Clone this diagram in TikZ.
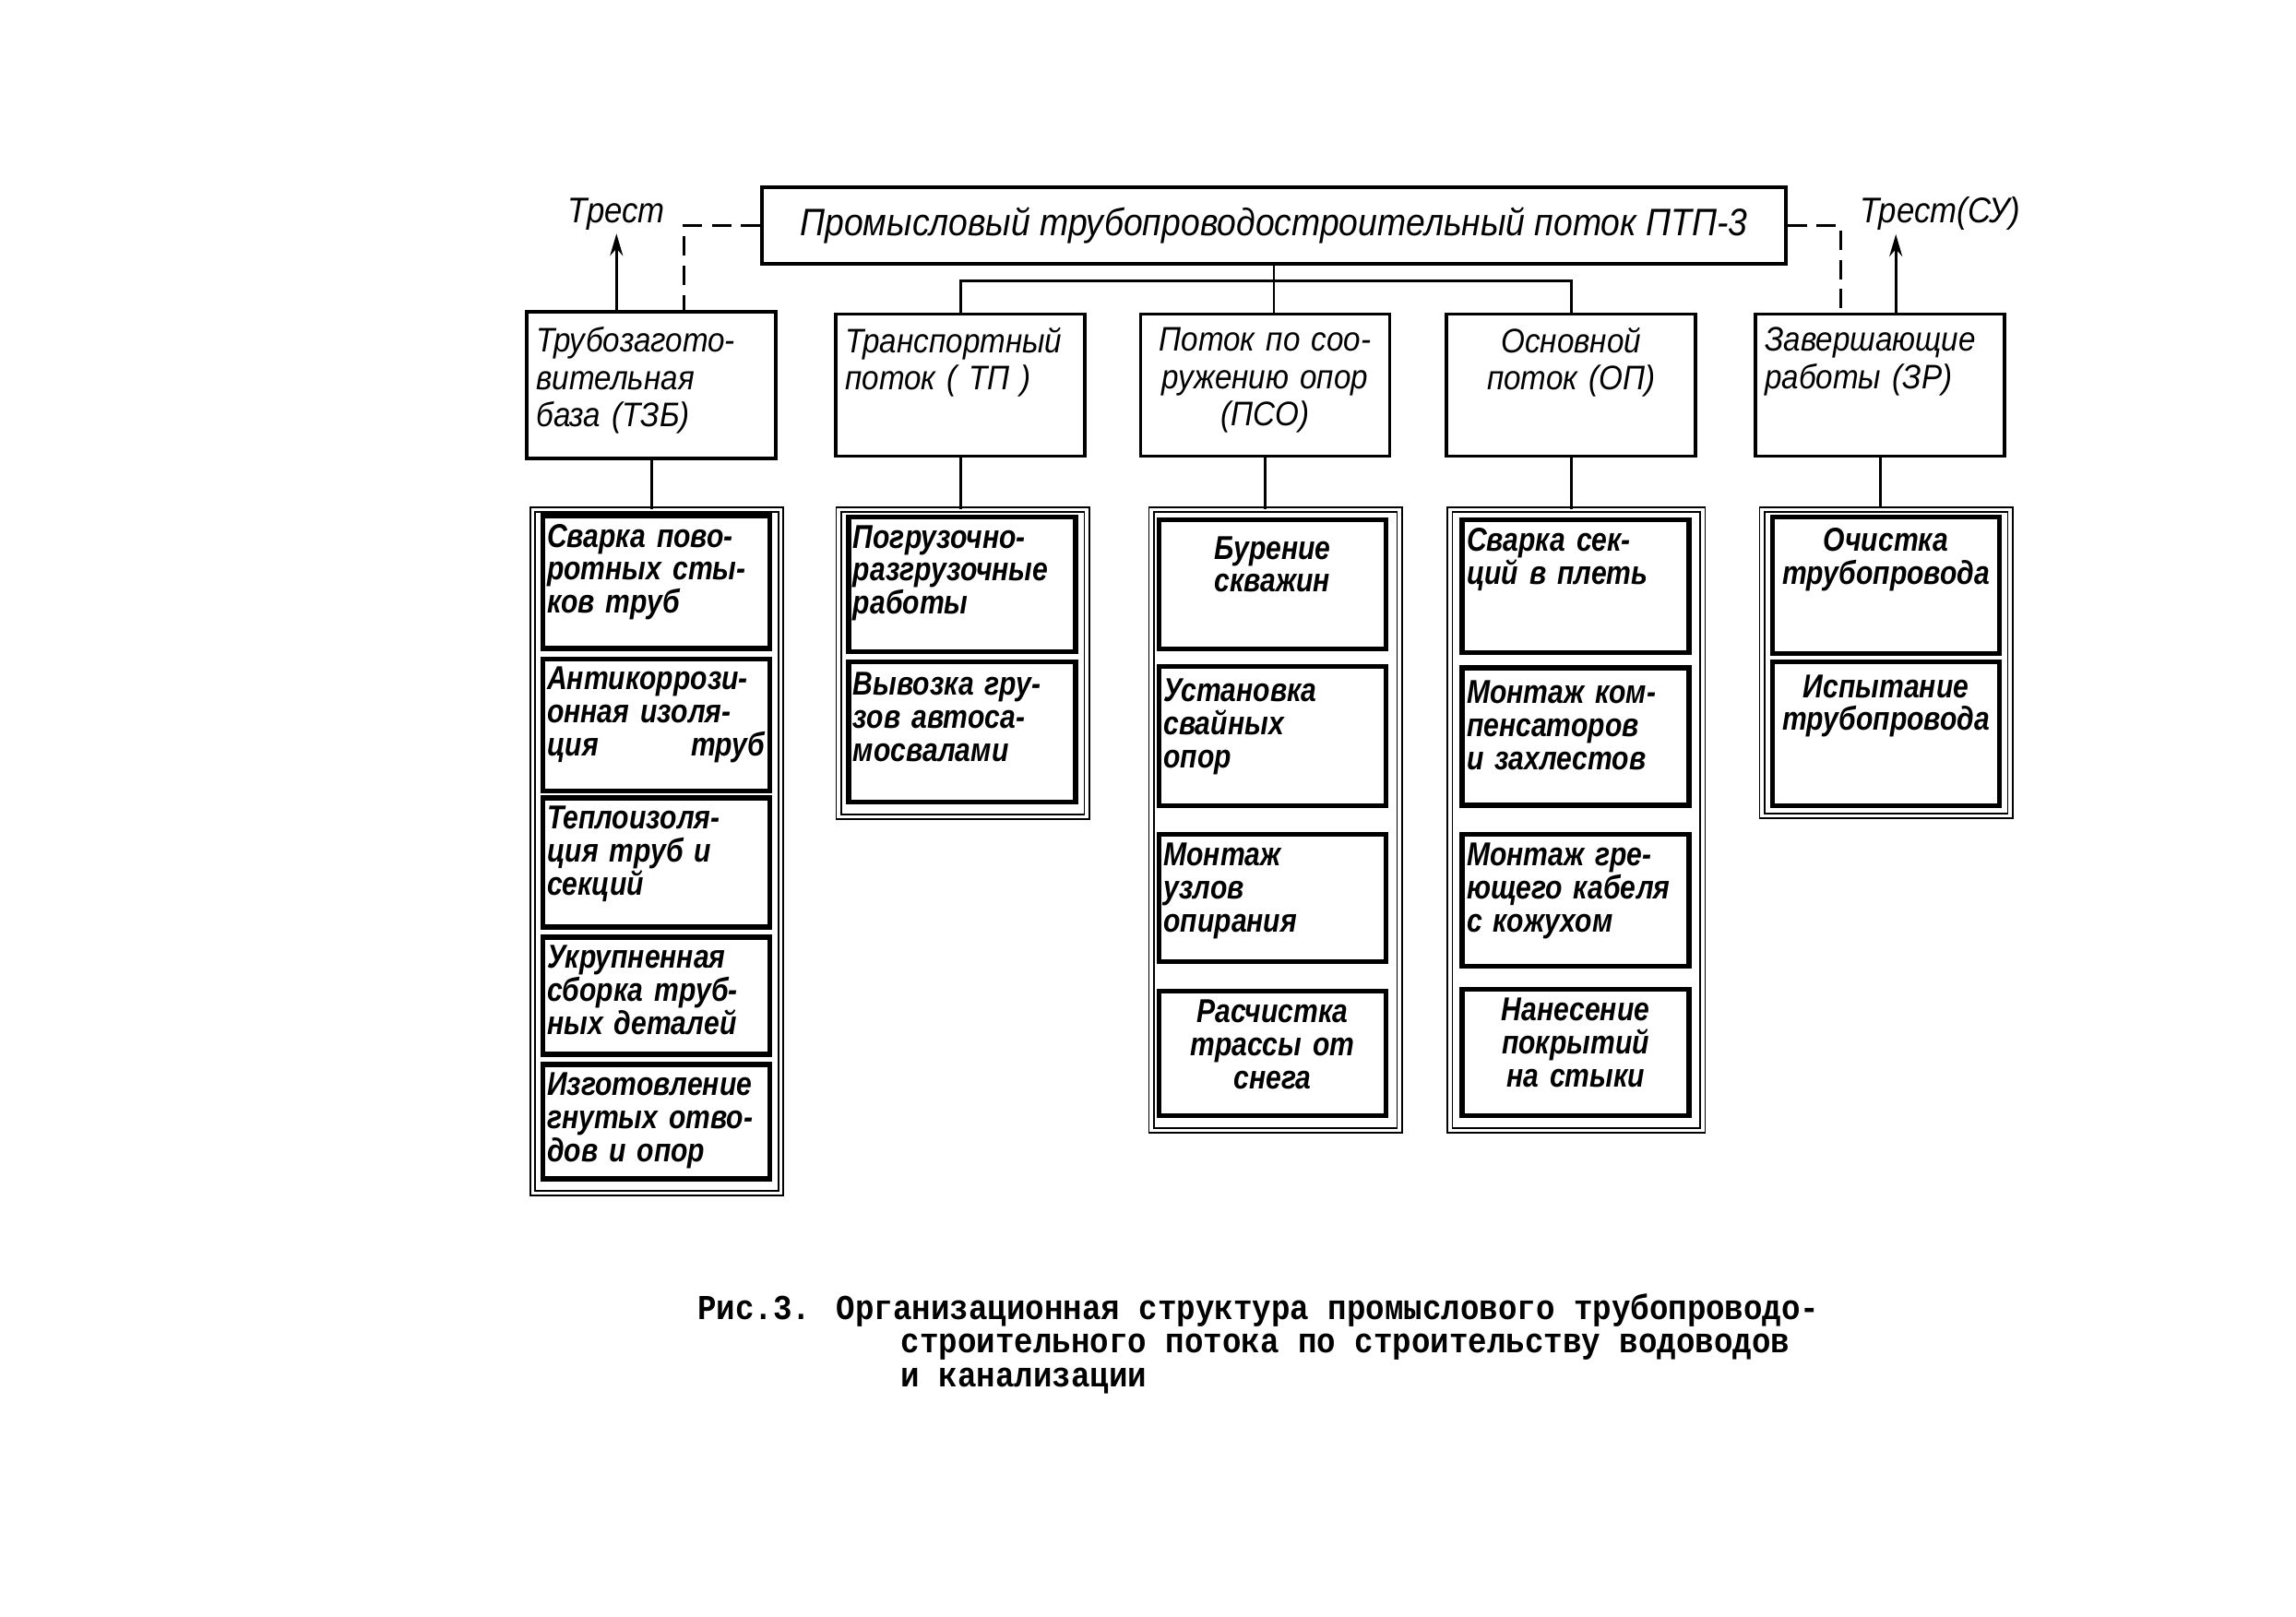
\documentclass[tikz,border=0pt]{standalone}
\usepackage{fontspec}
\setmainfont{Liberation Sans}
\newfontfamily\handfont{Liberation Sans}[FakeStretch=0.9]
\newfontfamily\jobfont{Liberation Sans}[FakeStretch=0.84]
\newfontfamily\typefont{Liberation Mono}[FakeStretch=0.9]
\usetikzlibrary{positioning, arrows.meta}

\begin{document}
\begin{tikzpicture}[x=0.15874mm, y=-0.15874mm,
  headbox/.style={draw, line width=0.9pt, minimum width=111mm, minimum height=8.3mm, inner sep=0pt, font=\handfont\itshape\fontsize{11.8}{13}\selectfont},
  unitbox/.style={draw, line width=1.1pt, minimum width=27mm, minimum height=15.4mm, inner sep=0pt},
  unittext/.style={text width=25mm, align=left, inner sep=0pt, font=\handfont\itshape\fontsize{10.5}{11.5}\selectfont},
  frame/.style={draw, double, line width=0.5pt, double distance=1pt, minimum width=26.9mm, inner sep=0pt},
  jobbox/.style={draw, line width=1.5pt, minimum width=24.6mm, inner sep=0pt},
  jobtext/.style={text width=23.6mm, align=left, inner sep=0pt, font=\jobfont\bfseries\itshape\fontsize{10.2}{10.2}\selectfont},
  link/.style={line width=0.8pt},
  dlink/.style={line width=0.8pt, dash pattern=on 6pt off 3pt},
  trest/.style={font=\handfont\itshape\fontsize{11}{12}\selectfont, inner sep=1pt},
  caption/.style={anchor=west, inner sep=0pt, font=\typefont\bfseries\fontsize{10.8}{12}\selectfont}
]
\useasboundingbox (0,0) rectangle (1568,1104);

% Head
\node[headbox] (head) at (870,154) {Промысловый трубопроводостроительный поток ПТП-3};
\node[trest] (trest) at (421,146) {Трест};
\node[trest] (trestsu) at (1325,146) {Трест(СУ)};

% Units
\node[unitbox, minimum height=15.9mm] (tzb) at (445,263) {};
\node[unittext, below=1.8mm of tzb.north] (tzbt) {Трубозагото-\\вительная\\база (ТЗБ)};
\node[unitbox] (tp) at (656,263) {};
\node[unittext, below=1.6mm of tp.north] (tpt) {Транспортный\\поток ( ТП )};
\node[unitbox] (pso) at (864,263) {};
\node[unittext, align=center, below=1.6mm of pso.north] (psot) {Поток по соо-\\ружению опор\\(ПСО)};
\node[unitbox] (op) at (1073,263) {};
\node[unittext, align=center, below=1.6mm of op.north] (opt) {Основной\\поток (ОП)};
\node[unitbox] (zr) at (1284,263) {};
\node[unittext, below=1.6mm of zr.north] (zrt) {Завершающие\\работы (ЗР)};

% Links from the head
\coordinate (bus) at (860,192);
\draw[link] (head.south) -- (head.south |- pso.north);
\draw[link] (tp.north) -- (tp.north |- bus) -- (op.north |- bus) -- (op.north);
\draw[dlink] (head.west) -| ([xshift=3.5mm]tzb.north);
\draw[dlink] (head.east) -| ([xshift=-4.3mm]zr.north);
\draw[link, -{Stealth[length=2.4mm, width=1.4mm]}] (trest.south |- tzb.north) -- (trest.south);
\draw[link, -{Stealth[length=2.4mm, width=1.4mm]}] ([xshift=1.7mm]zr.north) -- ([xshift=1.7mm]zr.north |- trestsu.south);

% Column 1
\node[frame, minimum height=74.1mm] (col1) at (448.5,581.5) {};
\draw[link] (tzb.south) -- (tzb.south |- col1.north);
\node[jobbox, minimum height=14.4mm] (c1a) at (448,397.5) {};
\node[jobtext, below=1.1mm of c1a.north] (c1at) {Сварка пово-\\ротных сты-\\ков труб};
\node[jobbox, minimum height=14.3mm] (c1b) at (448,495) {};
\node[jobtext, below=1.1mm of c1b.north] (c1bt) {Антикоррози-\\онная изоля-\\ция\hfill труб};
\node[jobbox, minimum height=14mm] (c1c) at (448,589) {};
\node[jobtext, below=1.1mm of c1c.north] (c1ct) {Теплоизоля-\\ция труб и\\секций};
\node[jobbox, minimum height=12.7mm] (c1d) at (448,680) {};
\node[jobtext, below=1.1mm of c1d.north] (c1dt) {Укрупненная\\сборка труб-\\ных деталей};
\node[jobbox, minimum height=12.4mm] (c1e) at (448,766) {};
\node[jobtext, below=1.1mm of c1e.north] (c1et) {Изготовление\\гнутых отво-\\дов и опор};

% Column 2
\node[frame, minimum height=33.3mm] (col2) at (657.5,453) {};
\draw[link] (tp.south) -- (tp.south |- col2.north);
\node[jobbox, minimum height=14.6mm] (c2a) at (657,399) {};
\node[jobtext, below=1.1mm of c2a.north] (c2at) {Погрузочно-\\разгрузочные\\работы};
\node[jobbox, minimum height=15.2mm] (c2b) at (657,500) {};
\node[jobtext, below=1.3mm of c2b.north] (c2bt) {Вывозка гру-\\зов автоса-\\мосвалами};

% Column 3
\node[frame, minimum height=67.3mm] (col3) at (871,560) {};
\draw[link] (pso.south) -- (pso.south |- col3.north);
\node[jobbox, minimum height=14mm] (c3a) at (869,399) {};
\node[jobtext, align=center, below=2mm of c3a.north] (c3at) {Бурение\\скважин};
\node[jobbox, minimum height=15.1mm] (c3b) at (869,502.5) {};
\node[jobtext, below=1.6mm of c3b.north] (c3bt) {Установка\\свайных\\опор};
\node[jobbox, minimum height=13.8mm] (c3c) at (869,613.5) {};
\node[jobtext, below=1.1mm of c3c.north] (c3ct) {Монтаж\\узлов\\опирания};
\node[jobbox, minimum height=13.5mm] (c3d) at (869,719.5) {};
\node[jobtext, align=center, below=1.1mm of c3d.north] (c3dt) {Расчистка\\трассы от\\снега};

% Column 4
\node[frame, minimum height=67.3mm, minimum width=27.4mm] (col4) at (1076.5,560) {};
\draw[link] (op.south) -- (op.south |- col4.north);
\node[jobbox, minimum height=14.4mm] (c4a) at (1076,400.5) {};
\node[jobtext, below=1.1mm of c4a.north] (c4at) {Сварка сек-\\ций в плеть};
\node[jobbox, minimum height=14.9mm] (c4b) at (1076,503) {};
\node[jobtext, below=1.6mm of c4b.north] (c4bt) {Монтаж ком-\\пенсаторов\\и захлестов};
\node[jobbox, minimum height=14.3mm] (c4c) at (1076,615) {};
\node[jobtext, below=1.1mm of c4c.north] (c4ct) {Монтаж гре-\\ющего кабеля\\с кожухом};
\node[jobbox, minimum height=13.7mm] (c4d) at (1076,719) {};
\node[jobtext, align=center, below=1.1mm of c4d.north] (c4dt) {Нанесение\\покрытий\\на стыки};

% Column 5
\node[frame, minimum height=33.2mm] (col5) at (1288,452.5) {};
\draw[link] (zr.south) -- (zr.south |- col5.north);
\node[jobbox, minimum height=14.8mm] (c5a) at (1288,399.5) {};
\node[jobtext, align=center, below=1.4mm of c5a.north] (c5at) {Очистка\\трубопровода};
\node[jobbox, minimum height=15.6mm] (c5b) at (1288,501) {};
\node[jobtext, align=center, below=1.6mm of c5b.north] (c5bt) {Испытание\\трубопровода};

% Caption
\node[caption] (cap1) at (476,895) {Рис.3. Организационная структура промыслового трубопроводо-};
\node[caption] (cap2) at (615,920) {строительного потока по строительству водоводов};
\node[caption] (cap3) at (615,943) {и канализации};
\end{tikzpicture}
\end{document}
